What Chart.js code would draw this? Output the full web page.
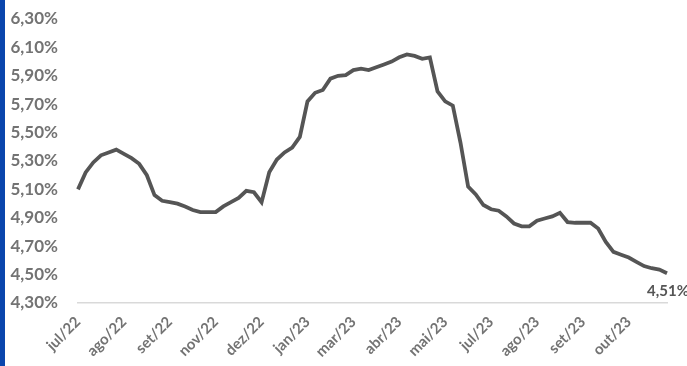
<!DOCTYPE html>
<html>
<head>
<meta charset="utf-8">
<script src="https://cdn.jsdelivr.net/npm/chart.js@4"></script>
<style>
    body { margin: 0; background: #fff; }
    #wrap { position: relative; width: 687px; height: 366px; }
    #strip { position: absolute; left: 0; top: 0; width: 5px; height: 366px; background: #0a46ad; }
</style>
</head>
<body>
<div id="wrap">
    <canvas id="chart" width="687" height="366"></canvas>
    <div id="strip"></div>
</div>
<script>
// Tick labels shown every 6th point
const tickLabels = ['jul/22', 'ago/22', 'set/22', 'nov/22', 'dez/22', 'jan/23', 'mar/23',
    'abr/23', 'mai/23', 'jul/23', 'ago/23', 'set/23', 'out/23'];
const labelEvery = 6;

// Series values (%)
const values = [
    5.10, 5.22, 5.29, 5.34, 5.36, 5.38, 5.35, 5.32, 5.28, 5.20,
    5.06, 5.02, 5.01, 5.00, 4.98, 4.955, 4.94, 4.94, 4.94, 4.98,
    5.01, 5.04, 5.09, 5.08, 5.01, 5.22, 5.31, 5.36, 5.395, 5.47,
    5.72, 5.78, 5.80, 5.88, 5.90, 5.905, 5.94, 5.95, 5.94, 5.96,
    5.98, 6.00, 6.03, 6.05, 6.04, 6.02, 6.03, 5.79, 5.72, 5.69,
    5.43, 5.12, 5.065, 4.99, 4.96, 4.95, 4.91, 4.86, 4.84, 4.84,
    4.88, 4.895, 4.91, 4.935, 4.87, 4.865, 4.865, 4.865, 4.825, 4.73,
    4.66, 4.64, 4.62, 4.59, 4.56, 4.545, 4.535, 4.51
];

// Category per point, labelled on every 6th one
const categories = values.map((v, i) => i % labelEvery === 0 ? tickLabels[i / labelEvery] : '');

const fmt = v => v.toFixed(2).replace('.', ',') + '%';

// Draws the value of the last point below it
const lastLabel = {
    id: 'lastLabel',
    afterDatasetsDraw(chart) {
        const meta = chart.getDatasetMeta(0);
        const pt = meta.data[meta.data.length - 1];
        const ctx = chart.ctx;
        ctx.save();
        ctx.font = 'bold 15px Lato';
        ctx.fillStyle = '#555555';
        ctx.textAlign = 'center';
        ctx.textBaseline = 'middle';
        ctx.fillText(fmt(values[values.length - 1]), pt.x + 1, pt.y + 18);
        ctx.restore();
    }
};

new Chart(document.getElementById('chart').getContext('2d'), {
    type: 'line',
    data: {
        labels: categories,
        datasets: [{
            data: values,
            borderColor: '#555555',
            borderWidth: 3.8,
            pointRadius: 0,
            tension: 0,
            fill: false
        }]
    },
    options: {
        responsive: false,
        animation: false,
        layout: { padding: { top: 19, right: 20, left: 0, bottom: 0 } },
        plugins: {
            legend: { display: false },
            tooltip: { enabled: false }
        },
        scales: {
            x: {
                grid: { display: false },
                border: { display: true, color: '#d9d9d9', width: 1.5 },
                ticks: {
                    autoSkip: false,
                    maxRotation: 45,
                    minRotation: 45,
                    padding: 2,
                    color: '#737373',
                    font: { family: 'Lato', size: 15, weight: 'bold' }
                },
                afterFit(scale) { scale.height = 63; }
            },
            y: {
                min: 4.3,
                max: 6.3,
                grid: { display: false, tickLength: 18 },
                border: { display: false },
                ticks: {
                    stepSize: 0.2,
                    padding: 2,
                    color: '#737373',
                    font: { family: 'Lato', size: 17, weight: 'bold' },
                    callback: v => fmt(v)
                },
                afterFit(scale) { scale.width = 78; }
            }
        }
    },
    plugins: [lastLabel]
});
</script>
</body>
</html>
